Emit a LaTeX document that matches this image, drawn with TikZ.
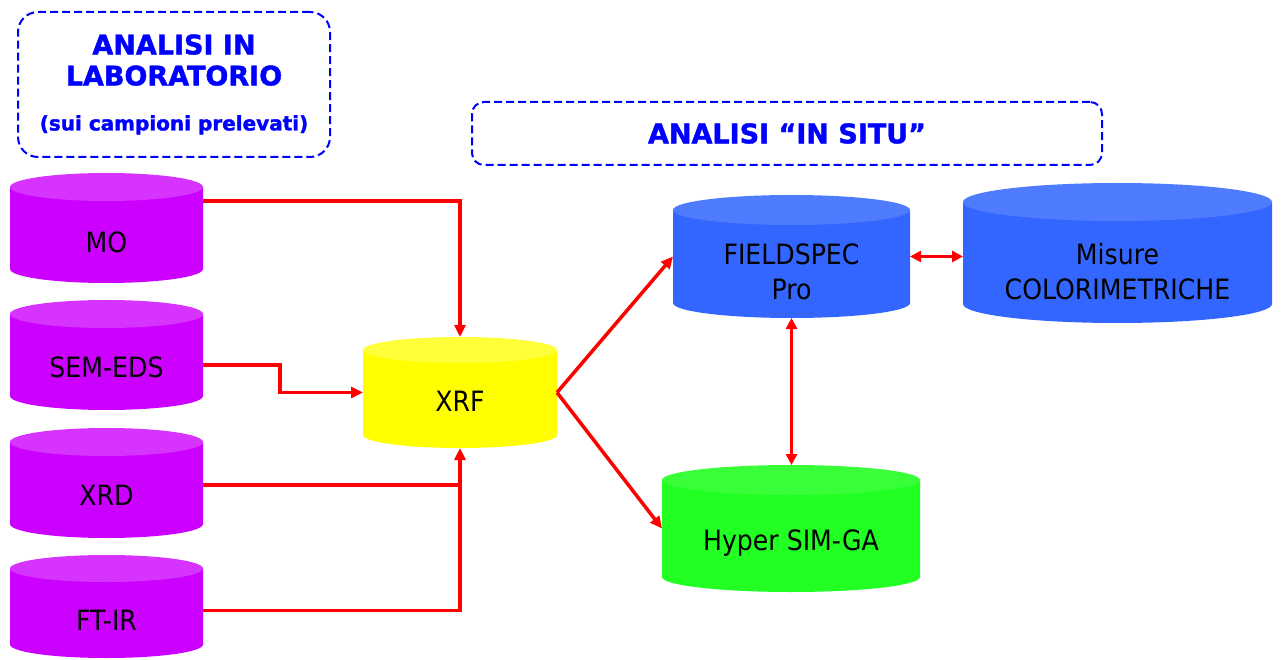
\documentclass[tikz,border=0pt]{standalone}
\usepackage{fontspec}
\setmainfont{DejaVu Sans}
\newfontfamily\cylfont{DejaVu Sans Condensed}
\newfontfamily\titlefont[FakeBold=1.5]{DejaVu Sans Bold}
\usetikzlibrary{arrows.meta}
\definecolor{purpbody}{HTML}{CC00FF}
\definecolor{purptop}{HTML}{D633FF}
\definecolor{yelbody}{HTML}{FFFF00}
\definecolor{yeltop}{HTML}{FFFF3A}
\definecolor{bluebody}{HTML}{3366FF}
\definecolor{bluetop}{HTML}{4F7BFF}
\definecolor{grnbody}{HTML}{22FF22}
\definecolor{grntop}{HTML}{38FF38}
\definecolor{arrred}{HTML}{FF0000}
\definecolor{titleblue}{HTML}{0000FF}
\tikzset{
  cyltext/.style={font=\cylfont\fontsize{28}{35}\selectfont, align=center, text=black, inner sep=0pt},
  titlebox/.style={draw=titleblue, dash pattern=on 8pt off 4pt, line width=2pt, text=titleblue,
    font=\titlefont\fontsize{27}{31}\selectfont, align=center, inner sep=0pt},
  conn/.style={draw=arrred, line width=3.5pt},
  arr/.style={conn, -{Triangle[length=12pt,width=11pt]}},
  darr/.style={conn, {Triangle[length=11pt,width=11pt]}-{Triangle[length=11pt,width=11pt]}},
}
% #1 name, #2 xl, #3 ytop, #4 xr, #5 ybottom, #6 ry, #7 body, #8 top, #9 text
\newcommand\mycyl[9]{%
  \pgfmathsetmacro\cylcx{(#2+#4)/2}%
  \pgfmathsetmacro\cylrx{(#4-#2)/2}%
  \pgfmathsetmacro\cylcy{(#3+#5)/2}%
  \pgfmathsetmacro\cylhh{#5-#3}%
  \pgfmathsetmacro\cylww{#4-#2}%
  \pgfmathsetmacro\cylty{(#3+2*#6+#5)/2}%
  \fill[#7] (#2,{-(#3+#6)}) -- (#2,{-(#5-#6)}) arc[start angle=180,end angle=360,x radius=\cylrx,y radius=#6] -- (#4,{-(#3+#6)}) -- cycle;
  \fill[#8] (\cylcx,{-(#3+#6)}) ellipse[x radius=\cylrx, y radius=#6];
  \node[minimum width=\cylww, minimum height=\cylhh, inner sep=0pt, outer sep=0pt] (#1) at (\cylcx,-\cylcy) {};
  \node[cyltext] (#1-t) at (\cylcx,-\cylty) {#9};
}
\begin{document}
\begin{tikzpicture}[x=1pt,y=1pt]
\useasboundingbox (0,0) rectangle (1282,-660);

\mycyl{MO}{10}{173}{203}{283}{14}{purpbody}{purptop}{MO}
\mycyl{SEM}{10}{300}{203}{410}{14}{purpbody}{purptop}{\raisebox{4pt}{SEM-EDS}}
\mycyl{XRD}{10}{428}{203}{538}{14}{purpbody}{purptop}{\raisebox{3pt}{XRD}}
\mycyl{FTIR}{10}{555}{203}{658}{13.5}{purpbody}{purptop}{FT-IR}
\mycyl{XRF}{363}{337}{557}{448}{13}{yelbody}{yeltop}{\raisebox{8pt}{XRF}}
\mycyl{FS}{673}{195}{910}{318}{15}{bluebody}{bluetop}{FIELDSPEC\\Pro}
\mycyl{MIS}{963}{183}{1272}{323}{19}{bluebody}{bluetop}{Misure\\COLORIMETRICHE}
\mycyl{HY}{662}{465}{920}{592}{15}{grnbody}{grntop}{Hyper SIM-GA}

\node[titlebox, minimum width=312pt, minimum height=145pt, rounded corners=20pt] (lab) at (174,-84.5)
  {ANALISI IN\\LABORATORIO\\[14pt]{\fontsize{20}{24}\selectfont (sui campioni prelevati)}};
\node[titlebox, minimum width=630pt, minimum height=63pt, rounded corners=12pt] (situ) at (787,-133.5)
  {ANALISI “IN SITU”};

\draw[arr] ([yshift=27pt]MO.east) -| (XRF.north);
\draw[arr] ([yshift=-10pt]SEM.east) -- ++(77,0) |- (XRF.west);
\draw[conn] ([yshift=-4pt]FTIR.east) -| ([yshift=-2pt]XRD.east -| XRF.south);
\draw[arr] ([yshift=-2pt]XRD.east) -| (XRF.south);
\draw[arr] (XRF.east) -- (FS.west);
\draw[arr] (XRF.east) -- (HY.west);
\draw[darr] (FS.east) -- (FS.east -| MIS.west);
\draw[darr] (FS.south) -- (FS.south |- HY.north);
\end{tikzpicture}
\end{document}
